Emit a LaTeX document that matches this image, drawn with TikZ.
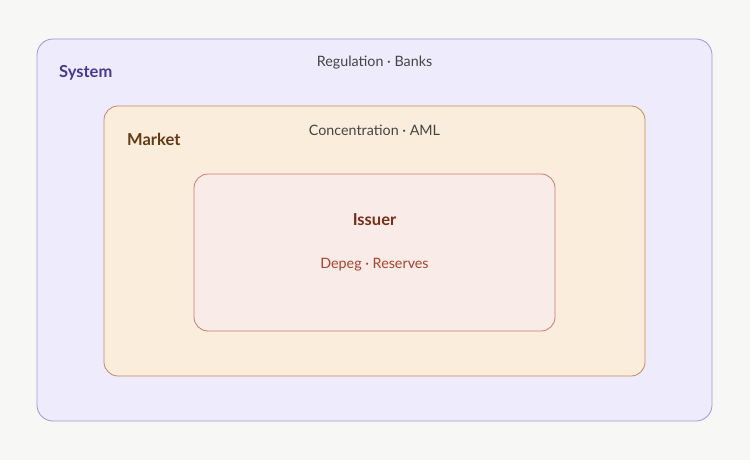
\documentclass[tikz,border=0pt]{standalone}
\usepackage{fontspec}
\setmainfont{Lato}
\usetikzlibrary{positioning}
\definecolor{pagebg}{HTML}{F7F7F5}
\definecolor{sysfill}{HTML}{EEECFC}
\definecolor{sysline}{HTML}{9C98D8}
\definecolor{systext}{HTML}{463896}
\definecolor{mktfill}{HTML}{FAEDDB}
\definecolor{mktline}{HTML}{C08A5C}
\definecolor{mkttext}{HTML}{643A12}
\definecolor{issfill}{HTML}{F9EBE7}
\definecolor{issline}{HTML}{C97C6A}
\definecolor{isstext}{HTML}{7A2E1A}
\definecolor{issnote}{HTML}{A8442A}
\definecolor{notetext}{HTML}{444444}

\begin{document}
\begin{tikzpicture}[
  x=1pt, y=-1pt,
  layer/.style={draw, rounded corners=14pt, line width=0.8pt, inner sep=0pt},
  title/.style={font=\bfseries\fontsize{16.5}{19}\selectfont, anchor=west, inner sep=0pt},
  note/.style={font=\fontsize{14.3}{17}\selectfont}
]
\fill[pagebg] (0,0) rectangle (750,460);
\useasboundingbox (0,0) rectangle (750,460);

\node[layer, fill=sysfill, draw=sysline, rounded corners=16pt, minimum width=675pt, minimum height=382pt] (system) at (374.5,230) {};
\node[layer, fill=mktfill, draw=mktline, minimum width=541pt, minimum height=270pt] (market) at (374.5,241) {};
\node[layer, fill=issfill, draw=issline, minimum width=361pt, minimum height=157pt] (issuer) at (374.5,252.5) {};

\node[title, text=systext] (systitle) at (59,72.5) {System};
\node[note, text=notetext] (sysnote) at (374.5,63) {Regulation · Banks};

\node[title, text=mkttext] (mkttitle) at (127,139) {Market};
\node[note, text=notetext] (mktnote) at (374.5,130) {Concentration · AML};

\node[title, anchor=center, text=isstext] (isstitle) at (374.5,220) {Issuer};
\node[note, text=issnote] (issnote) at (374.5,265) {Depeg · Reserves};
\end{tikzpicture}
\end{document}
